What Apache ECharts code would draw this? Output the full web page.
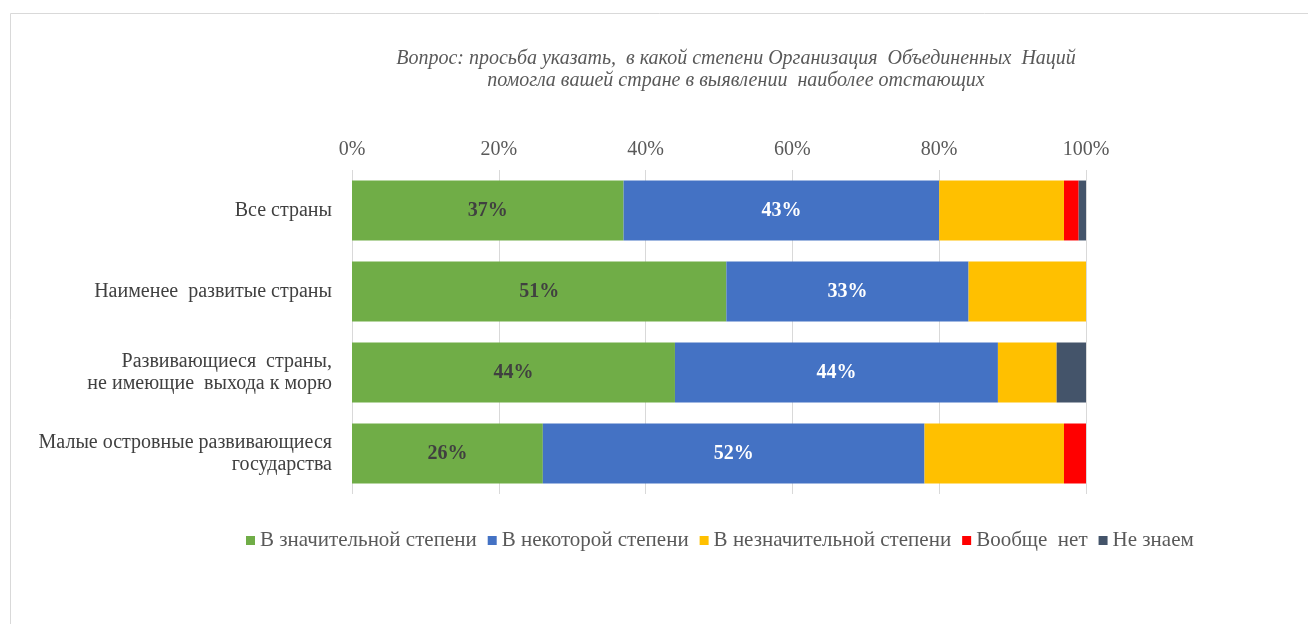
<!DOCTYPE html>
<html><head><meta charset="utf-8">
<script src="https://cdn.jsdelivr.net/npm/echarts@6/dist/echarts.min.js"></script>
<style>html,body{margin:0;padding:0;background:#fff}#c{width:1308px;height:624px}</style>
</head><body><div id="c"></div>
<script>
const categories = ["Все страны","Наименее  развитые страны","Развивающиеся  страны,\nне имеющие  выхода к морю","Малые островные развивающиеся\nгосударства"];
const seriesNames = ["В значительной степени","В некоторой степени","В незначительной степени","Вообще  нет","Не знаем"];
const significant = [37,51,44,26];
const some = [43,33,44,52];
const insignificant = [17,16,8,19];
const notAtAll = [2,0,0,3];
const dontKnow = [1,0,4,0];
const colors = ["#70AD47","#4472C4","#FFC000","#FF0000","#44546A"];
const labeled = [true,true,false,false,false];
const labelColors = ["#404040","#ffffff","#404040","#404040","#404040"];
const values = [significant,some,insignificant,notAtAll,dontKnow];

const chart = echarts.init(document.getElementById('c'));
const serif = "'Liberation Serif', 'DejaVu Serif', serif";
chart.setOption({
  animation:false,
  title:{text:"Вопрос: просьба указать,  в какой степени Организация  Объединенных  Наций\nпомогла вашей стране в выявлении  наиболее отстающих",
    left:731, textAlign:'center', top:43,
    textStyle:{fontFamily:serif, fontStyle:'italic', fontWeight:'normal', fontSize:20, color:'#595959', lineHeight:22}},
  graphic:[{type:'rect',shape:{x:10.5,y:13.5,width:1320,height:640},style:{fill:'none',stroke:'#d9d9d9',lineWidth:1}}],
  legend:{top:525,left:241,itemWidth:9,itemHeight:9,itemGap:11,icon:'rect',
    textStyle:{fontFamily:serif,fontSize:21,color:'#595959',padding:[0,0,0,0]}},
  grid:{left:352,right:222,top:170,bottom:130},
  xAxis:{type:'value',position:'top',min:0,max:100,interval:20,
    axisLabel:{formatter:'{value}%',fontFamily:serif,fontSize:20,color:'#595959',margin:10},
    splitLine:{lineStyle:{color:'#d9d9d9'}},axisLine:{show:false},axisTick:{show:false}},
  yAxis:{type:'category',inverse:true,data:categories,
    axisLabel:{fontFamily:serif,fontSize:20,color:'#404040',margin:20,lineHeight:22,align:'right'},
    axisLine:{show:false},axisTick:{show:false}},
  series: seriesNames.map((n,i)=>({
    name:n,type:'bar',stack:'s',barWidth:'74%',
    itemStyle:{color:colors[i]},
    label:{show:labeled[i],position:'inside',formatter:'{c}%',fontFamily:serif,fontWeight:'bold',fontSize:20,color:labelColors[i]},
    data:values[i]
  }))
});
</script></body></html>
